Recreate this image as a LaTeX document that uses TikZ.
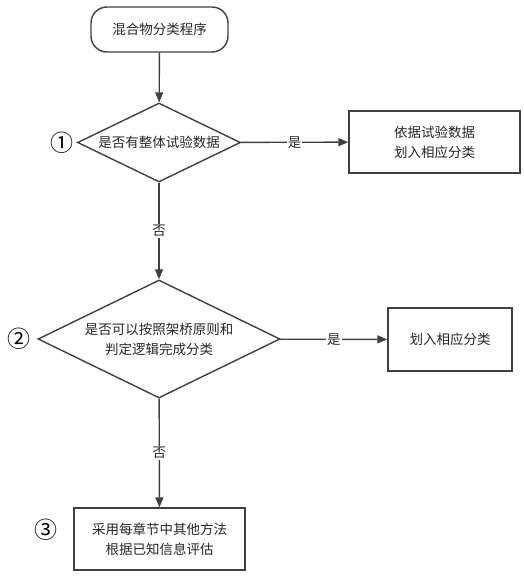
\documentclass[tikz,border=0pt]{standalone}
\usepackage{fontspec}
\setmainfont{Noto Sans CJK SC}
\usetikzlibrary{shapes.geometric,arrows.meta}

\begin{document}
\begin{tikzpicture}[x=1pt, y=-1pt, >={Triangle[length=10pt,width=8pt]}]
	\tikzstyle{every node} = [text=black!85, font=\fontsize{13.5}{20}\selectfont, align=center]
	\tikzstyle{startbox} = [draw=black!75, line width=1.4pt, rounded corners=16pt, minimum width=137pt, minimum height=45pt]
	\tikzstyle{decision} = [draw=black!75, line width=1.4pt, diamond, aspect=2, inner sep=0pt]
	\tikzstyle{resultbox} = [draw=black!75, line width=1.4pt, minimum width=171pt, minimum height=62pt]
	\tikzstyle{stepmark} = [font=\fontsize{23}{24}\selectfont, text=black]
	\tikzstyle{answer} = [fill=white, inner sep=1pt, midway]
	\useasboundingbox (0,0) rectangle (524,578);
	\node[startbox] (Start) at (159.5, 29.5) {混合物分类程序};
	\node[decision, minimum width=163pt, minimum height=79pt] (Check1) at (159, 142.5) {是否有整体试验数据};
	\node[resultbox] (Data) at (434.5, 142) {依据试验数据\\划入相应分类};
	\node[decision, minimum width=242pt, minimum height=118pt] (Check2) at (159, 339) {是否可以按照架桥原则和\\判定逻辑完成分类};
	\node[resultbox, minimum width=124pt, minimum height=63pt] (Bridge) at (450, 339.5) {划入相应分类};
	\node[resultbox] (Other) at (159.5, 539) {采用每章节中其他方法\\根据已知信息评估};
	\node[stepmark] (One) at (62, 143) {①};
	\node[stepmark] (Two) at (19, 339) {②};
	\node[stepmark] (Three) at (46, 530) {③};
	\draw [->, draw=black!75, line width=1.4pt] (Start)--(Check1);
	\draw [->, draw=black!75, line width=1.4pt] (Check1)--(Data) node[answer] {是};
	\draw [->, draw=black!75, line width=1.4pt] (Check1)--(Check2) node[answer] {否};
	\draw [->, draw=black!75, line width=1.4pt] (Check2)--(Bridge) node[answer] {是};
	\draw [->, draw=black!75, line width=1.4pt] (Check2)--(Other) node[answer] {否};
\end{tikzpicture}
\end{document}
